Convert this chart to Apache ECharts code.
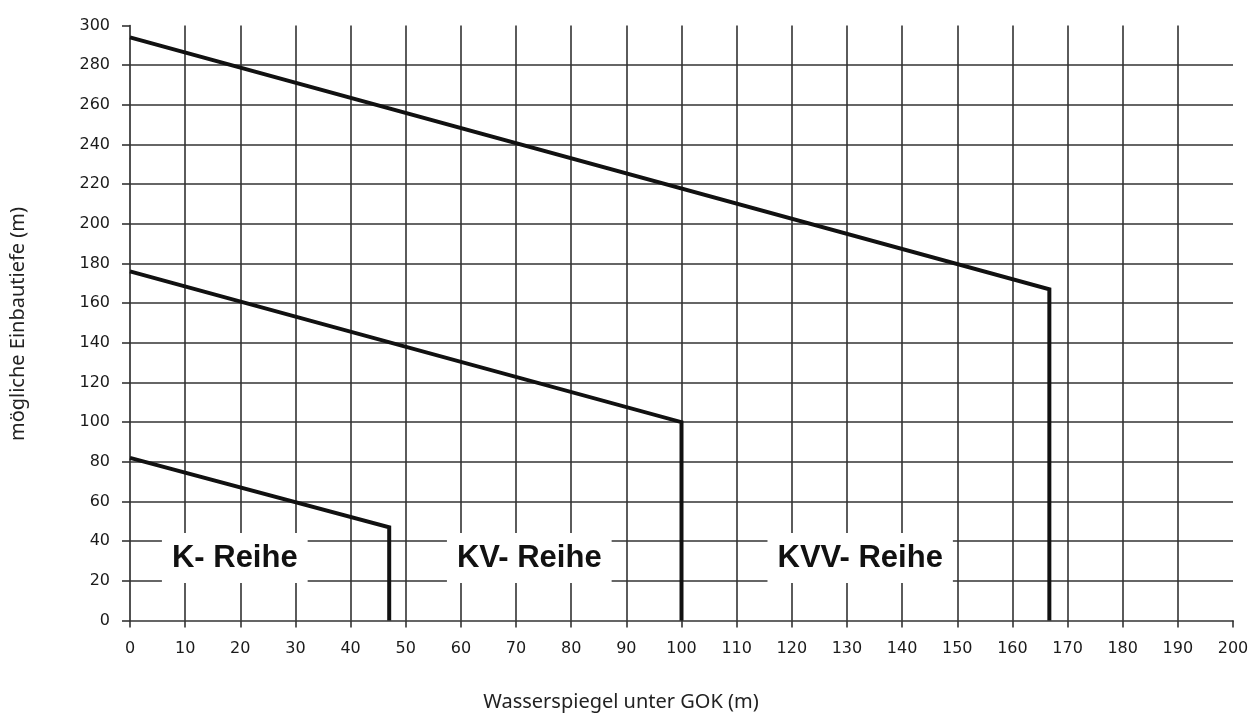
<!DOCTYPE html>
<html>
<head>
<meta charset="utf-8">
<script src="https://cdn.jsdelivr.net/npm/echarts@6/dist/echarts.min.js"></script>
<style>
html,body{margin:0;padding:0;background:#fff;}
#chart{width:1256px;height:713px;}
</style>
</head>
<body>
<div id="chart"></div>
<script>
// Data
const xTicks = [0,10,20,30,40,50,60,70,80,90,100,110,120,130,140,150,160,170,180,190,200];
const yTicks = [0,20,40,60,80,100,120,140,160,180,200,220,240,260,280,300];
const kReihe   = [[0, 82], [47, 47], [47, 0]];
const kvReihe  = [[0, 176], [100, 100], [100, 0]];
const kvvReihe = [[0, 294], [166.7, 167], [166.7, 0]];
const regionNames = ['K- Reihe', 'KV- Reihe', 'KVV- Reihe'];
const regionAnchorX = [19, 72.4, 132.4];
const regionAnchorY = [31.5, 31.5, 31.5];
const xTitle = 'Wasserspiegel unter GOK (m)';
const yTitle = 'mögliche Einbautiefe (m)';

const gridCol = '#333';
const lineSeries = (name, data) => ({
  name, type: 'line', data, symbol: 'none', z: 5,
  lineStyle: { color: '#111', width: 4, join: 'miter' }
});

const chart = echarts.init(document.getElementById('chart'), null, { renderer: 'canvas' });
chart.setOption({
  backgroundColor: '#fff',
  animation: false,
  grid: { left: 130, right: 23, top: 25.5, bottom: 92.5 },
  xAxis: {
    type: 'value', min: 0, max: 200, interval: 10,
    axisLine: { show: true, onZero: false, lineStyle: { color: gridCol, width: 1.7 } },
    axisTick: { show: true, length: 7, lineStyle: { color: gridCol, width: 1.6 } },
    axisLabel: { margin: 20, fontFamily: 'DejaVu Sans', fontSize: 16, color: '#1a1a1a' },
    splitLine: { show: true, showMinLine: false, showMaxLine: false, lineStyle: { color: gridCol, width: 1.6 } }
  },
  yAxis: {
    type: 'value', min: 0, max: 300, interval: 20,
    axisLine: { show: true, onZero: false, lineStyle: { color: gridCol, width: 1.7 } },
    axisTick: { show: true, length: 8, lineStyle: { color: gridCol, width: 1.6 } },
    axisLabel: { margin: 20, fontFamily: 'DejaVu Sans', fontSize: 16, color: '#1a1a1a' },
    splitLine: { show: true, showMinLine: false, showMaxLine: false, lineStyle: { color: gridCol, width: 1.6 } }
  },
  graphic: [
    { type: 'text', x: 621, y: 702, style: { text: xTitle, align: 'center', verticalAlign: 'middle',
      font: '20px "Noto Sans"', fill: '#222' } },
    { type: 'text', rotation: Math.PI / 2, x: 18, y: 324, style: { text: yTitle, align: 'center', verticalAlign: 'middle',
      font: '20px "Noto Sans"', fill: '#222' } }
  ],
  series: [
    lineSeries('K- Reihe', kReihe),
    lineSeries('KV- Reihe', kvReihe),
    lineSeries('KVV- Reihe', kvvReihe),
    {
      type: 'scatter', symbolSize: 0, z: 4, silent: true,
      itemStyle: { opacity: 1 },
      data: regionNames.map((n, i) => ({ name: n, value: [regionAnchorX[i], regionAnchorY[i]] })),
      label: {
        show: true, position: 'inside', formatter: p => p.name, opacity: 1,
        fontFamily: 'Liberation Sans', fontWeight: 'bold', fontSize: 31, color: '#111',
        backgroundColor: '#fff', padding: [9, 10, 7, 10], lineHeight: 34
      },
      emphasis: { disabled: true }
    }
  ]
});
</script>
</body>
</html>
